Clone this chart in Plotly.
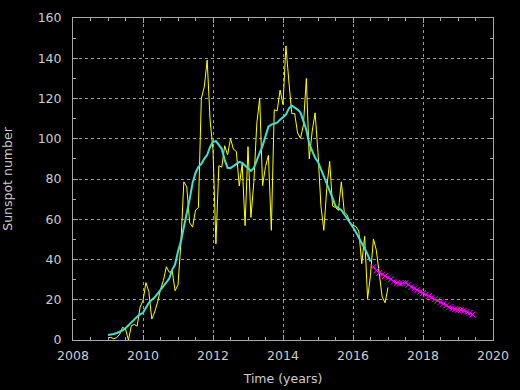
import plotly.graph_objects as go

# Monthly mean sunspot number, Jan 2009 .. Jan 2017 (one value per month)
monthly_start_year = 2009
monthly_values = [
    1.2, 1.3, 0.6, 1.2, 2.9, 6.3, 5.5, 0.0, 7.1, 7.7, 6.9, 16.3,          # 2009
    19.5, 28.5, 24.0, 10.4, 13.9, 18.8, 25.2, 29.6, 36.4, 33.6, 34.4, 24.5,  # 2010
    27.3, 48.3, 78.6, 76.1, 58.2, 56.1, 64.5, 65.8, 120.1, 125.7, 139.1, 109.3,  # 2011
    94.4, 47.8, 86.6, 85.9, 96.5, 92.0, 100.1, 94.8, 93.7, 76.5, 87.6, 56.8,  # 2012
    96.1, 60.9, 78.3, 107.3, 120.2, 76.7, 86.2, 91.8, 54.5, 114.4, 113.9, 124.2,  # 2013
    117.0, 146.1, 128.7, 112.5, 112.5, 102.9, 100.2, 106.9, 130.0, 90.0, 103.6, 112.9,  # 2014
    93.0, 66.7, 54.5, 75.3, 88.8, 66.5, 65.8, 64.4, 78.6, 63.6, 62.2, 58.0,  # 2015
    57.0, 56.4, 54.1, 37.9, 51.5, 20.5, 32.4, 50.2, 44.6, 33.4, 21.4, 18.5,  # 2016
    26.1,  # 2017 Jan
]

# 13-month smoothed sunspot number, Jan 2009 .. Jul 2016
smoothed_values = [
    2.5, 2.7, 3.0, 3.5, 4.0, 4.8, 5.8, 7.3, 8.8, 10.2, 11.6, 12.7,
    13.5, 16.0, 18.5, 20.0, 21.2, 23.0, 25.0, 26.5, 28.4, 30.5, 35.0, 37.5,
    44.0, 49.0, 56.0, 62.5, 70.0, 78.0, 83.0, 86.0, 87.5, 90.0, 92.0, 96.0,
    98.5, 98.8, 97.0, 95.0, 89.5, 85.6, 85.4, 86.5, 87.5, 88.5, 88.0, 86.5,
    85.0, 84.0, 85.5, 89.7, 93.0, 96.5, 101.5, 106.0, 107.0, 107.5, 108.0, 109.5,
    111.0, 112.0, 115.0, 116.5, 115.5, 114.5, 113.0, 109.0, 104.5, 97.5, 93.5, 90.5,
    88.5, 85.0, 81.0, 77.5, 74.5, 70.5, 66.5, 65.5, 64.5, 62.5, 60.5, 58.5,
    56.0, 53.5, 51.0, 48.0, 45.5, 42.5, 39.0,
]

# Predicted smoothed sunspot number, Aug 2016 .. Jun 2019
predicted_start = (2016, 8)
predicted_values = [
    36.3, 34.5, 33.3, 32.6, 31.8,
    31.0, 30.2, 29.0, 28.3, 28.0, 28.2, 28.4, 27.4, 26.3, 25.6, 24.8, 24.0,
    23.3, 22.6, 21.8, 21.1, 20.3, 19.6, 18.8, 18.0, 17.2, 16.3, 15.7, 15.3,
    15.0, 14.8, 14.5, 14.0, 13.4, 12.7,
]

x_ticks = [2008, 2010, 2012, 2014, 2016, 2018, 2020]
y_ticks = [0, 20, 40, 60, 80, 100, 120, 140, 160]


def month_times(start_year, start_month, n):
    return [start_year + (start_month - 1 + i) / 12.0 for i in range(n)]


t_monthly = month_times(monthly_start_year, 1, len(monthly_values))
t_smoothed = month_times(monthly_start_year, 1, len(smoothed_values))
t_pred = month_times(predicted_start[0], predicted_start[1], len(predicted_values))

fig = go.Figure()
fig.add_trace(go.Scatter(x=t_monthly, y=monthly_values, mode="lines",
                         line=dict(color="#ffff00", width=1), name="monthly"))
fig.add_trace(go.Scatter(x=t_smoothed, y=smoothed_values, mode="lines",
                         line=dict(color="#40e0d0", width=2), name="smoothed"))
fig.add_trace(go.Scatter(x=t_pred, y=predicted_values, mode="lines+markers",
                         line=dict(color="#ff00ff", width=1),
                         marker=dict(symbol="x-thin", size=6,
                                     line=dict(color="#ff00ff", width=1)),
                         name="predicted"))

txt = "#cccccc"
frame = "#a8a8a8"
axis_common = dict(
    showline=True, linecolor=frame, linewidth=1, mirror="allticks",
    ticks="inside", ticklen=5, tickcolor=frame, tickwidth=1,
    showgrid=True, gridcolor="#9a9a9a", griddash="dot", gridwidth=1,
    zeroline=False, automargin=False,
    tickfont=dict(color=txt, size=12.5, family="DejaVu Sans"),
)

fig.update_layout(
    width=520, height=390,
    paper_bgcolor="black", plot_bgcolor="black",
    margin=dict(l=73, r=27, t=18, b=50),
    showlegend=False,
    font=dict(family="DejaVu Sans", color=txt, size=12.5),
    xaxis=dict(range=[2008, 2020], tickvals=x_ticks,
               ticktext=[str(v) for v in x_ticks],
               minor=dict(dtick=0.5, ticks="inside", ticklen=3, tickcolor=frame, showgrid=False),
               title=dict(text="Time (years)", standoff=12, font=dict(color=txt, size=12.5)),
               ticklabelstandoff=4,
               **axis_common),
    yaxis=dict(range=[0, 160], tickvals=y_ticks,
               ticktext=[str(v) for v in y_ticks],
               minor=dict(dtick=10, ticks="inside", ticklen=3, tickcolor=frame, showgrid=False),
               title=dict(text="Sunspot number", standoff=24, font=dict(color=txt, size=12.5)),
               ticklabelstandoff=8,
               **axis_common),
)

fig.write_html(
    "out.html",
    config={"displayModeBar": False},
    post_script="document.body.style.margin='0';document.body.style.background='black';",
)
